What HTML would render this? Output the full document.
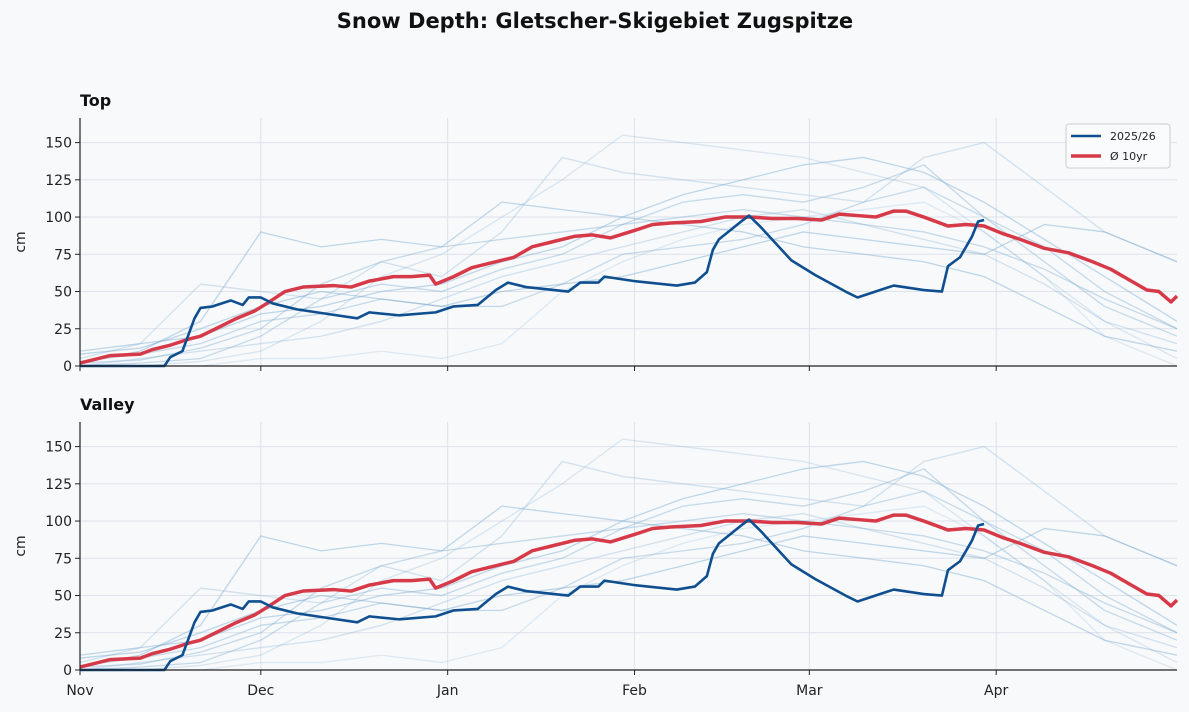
<!DOCTYPE html>
<html><head><meta charset="utf-8"><style>
body{margin:0;background:#f7f9fb;font-family:"DejaVu Sans","Liberation Sans",sans-serif}
svg{display:block}
</style></head><body>
<svg id="chart" width="1189" height="712" xmlns="http://www.w3.org/2000/svg" font-family="DejaVu Sans, Liberation Sans, sans-serif">
<rect width="1189" height="712" fill="#f7f9fb"/>
<text x="595" y="28" text-anchor="middle" font-size="21" font-weight="bold" fill="#111">Snow Depth: Gletscher-Skigebiet Zugspitze</text>
</svg>
<script>
const monthLabels=["Nov","Dec","Jan","Feb","Mar","Apr"];
const monthDays=[0,30,61,92,121,152];
const yTicks=[0,25,50,75,100,125,150];
const panelNames=["Top","Valley"];
const curDays=[0,14,15,17,19,20,22,25,27,28,30,32,36,41,46,48,53,59,62,66,69,71,74,81,83,86,87,92,99,102,104,105,106,110,111,113,118,122,127,129,132,135,140,143,144,146,148,149,150];
const curVals=[0,0,6,10,32,39,40,44,41,46,46,42,38,35,32,36,34,36,40,41,51,56,53,50,56,56,60,57,54,56,63,78,85,98,101,93,71,61,50,46,50,54,51,50,67,73,87,97,98];
const avgDays=[0,3,5,10,12,15,18,20,23,26,29,31,34,37,42,45,48,52,55,58,59,62,65,68,72,75,78,82,85,88,92,95,98,103,107,111,115,119,123,126,129,132,135,137,140,144,147,150,153,156,160,164,168,171,174,177,179,181,182];
const avgVals=[2,5,7,8,11,14,18,20,26,32,37,42,50,53,54,53,57,60,60,61,55,60,66,69,73,80,83,87,88,86,91,95,96,97,100,100,99,99,98,102,101,100,104,104,100,94,95,94,89,85,79,76,70,65,58,51,50,43,47];
const histDays=[0,10,20,30,40,50,60,70,80,90,100,110,120,130,140,150,160,170,182];
const hist1=[2,10,30,90,80,85,80,110,105,100,95,90,80,75,70,60,40,20,10];
const hist2=[5,15,55,50,45,70,60,90,140,130,125,120,115,110,140,150,120,90,70];
const hist3=[0,2,5,20,45,55,50,65,75,95,110,115,110,120,135,100,70,40,20];
const hist4=[8,12,25,40,50,45,40,50,55,60,70,80,90,85,80,75,95,90,70];
const hist5=[0,0,3,10,30,60,75,100,125,155,150,145,140,130,120,90,60,30,5];
const hist6=[3,8,15,30,35,45,40,40,55,75,80,85,95,110,120,100,80,50,25];
const hist7=[0,5,10,15,20,30,45,60,70,80,90,100,105,95,85,75,55,30,15];
const hist8=[10,15,20,35,40,50,55,70,80,100,115,125,135,140,130,110,85,60,30];
const hist9=[0,0,0,5,5,10,5,15,50,70,85,95,100,105,110,90,60,20,0];
const hist10=[2,4,12,25,55,70,80,85,90,95,100,105,100,95,90,80,65,45,25];
const histAll=[hist1,hist2,hist3,hist4,hist5,hist6,hist7,hist8,hist9,hist10];
const histAlpha=[0.45,0.3,0.4,0.45,0.25,0.4,0.3,0.45,0.2,0.4];

const NS="http://www.w3.org/2000/svg";
const svg=document.getElementById("chart");
const X0=80,X1=1177,DMAX=182;
function xs(d){return X0+d*(X1-X0)/DMAX;}
function mk(tag,attrs,parent){const e=document.createElementNS(NS,tag);for(const k in attrs)e.setAttribute(k,attrs[k]);(parent||svg).appendChild(e);return e;}
const panels=[{top:118,base:366},{top:422,base:670}];
panels.forEach((p,pi)=>{
  const ys=v=>p.base-v*(p.base-p.top)/166.5;
  const g=mk("g",{});
  
  
  yTicks.forEach(t=>{
    const l=mk("line",{x1:X0,x2:X1,y1:ys(t),y2:ys(t),stroke:"#dde3ea","stroke-width":1},g);
    
    
    const tk=mk("line",{x1:X0-5,x2:X0,y1:ys(t),y2:ys(t),stroke:"#222"},g);
    
    
    const tx=mk("text",{x:X0-8,y:ys(t)+5,"text-anchor":"end","font-size":14,fill:"#222"},g);
    tx.textContent=t;
    
    
  });
  monthDays.forEach((d,i)=>{
    if(d>0){const l=mk("line",{x1:xs(d),x2:xs(d),y1:p.top,y2:p.base,stroke:"#dde3ea"},g);
    
    }
    const tk=mk("line",{x1:xs(d),x2:xs(d),y1:p.base,y2:p.base+5,stroke:"#222"},g);
    
    
    if(pi===1){const tx=mk("text",{x:xs(d),y:p.base+25,"text-anchor":"middle","font-size":14,fill:"#222"},g);
    tx.textContent=monthLabels[i];
    
    }
  });
  histAll.forEach((h,hi)=>{
    const pts=histDays.map((d,i)=>xs(d)+","+ys(h[i])).join(" ");
    const pl=mk("polyline",{points:pts,fill:"none",stroke:"#7aaad0","stroke-opacity":histAlpha[hi],"stroke-width":1.3},g);
    
    
  });
  const ap=mk("polyline",{points:avgDays.map((d,i)=>xs(d)+","+ys(avgVals[i])).join(" "),fill:"none",stroke:"#d63a48","stroke-width":3.5,"stroke-linejoin":"round"},g);
  
  
  const cp=mk("polyline",{points:curDays.map((d,i)=>xs(d)+","+ys(curVals[i])).join(" "),fill:"none",stroke:"#0f4f8f","stroke-width":2.6,"stroke-linejoin":"round"},g);
  
  
  const ax=mk("path",{d:`M${X0} ${p.top}V${p.base}H${X1}`,fill:"none",stroke:"#222","stroke-width":1.2},g);
  
  
  const tt=mk("text",{x:X0,y:p.top-12,"font-size":16,"font-weight":"bold",fill:"#111"},g);
  tt.textContent=panelNames[pi];
  
  
  const yl=mk("text",{x:0,y:0,"font-size":14,fill:"#222","text-anchor":"middle",transform:`translate(25,${(p.top+p.base)/2}) rotate(-90)`},g);
  yl.textContent="cm";
  
  
});
const lg=mk("g",{});


mk("rect",{x:1066,y:124,width:104,height:44,rx:3,fill:"#fafbfc",stroke:"#ccc"},lg);
const l1=mk("line",{x1:1071,x2:1101,y1:136,y2:136,stroke:"#0f4f8f","stroke-width":2.6},lg);


const t1=mk("text",{x:1110,y:140,"font-size":11,fill:"#222"},lg);t1.textContent="2025/26";


const l2=mk("line",{x1:1071,x2:1101,y1:156,y2:156,stroke:"#d63a48","stroke-width":3.5},lg);


const t2=mk("text",{x:1110,y:160,"font-size":11,fill:"#222"},lg);t2.textContent="Ø 10yr";


</script>
</body></html>
